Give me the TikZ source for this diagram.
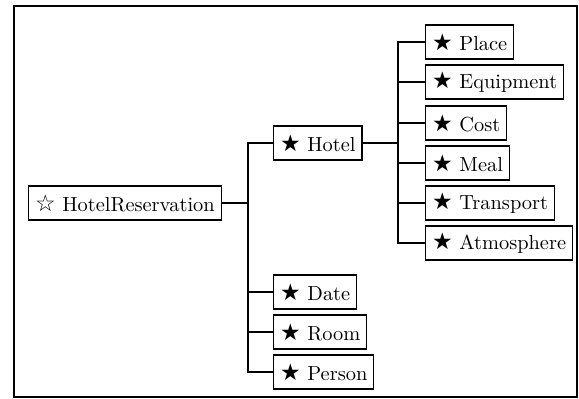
\documentclass[tikz,border=0pt]{standalone}
\usepackage{fontspec}
\usepackage{tikz}

\newfontfamily\starfont{DejaVu Sans}
\newcommand{\fullstar}{{\starfont\fontsize{11.5}{12}\selectfont ★}}
\newcommand{\openstar}{{\starfont\fontsize{11.5}{12}\selectfont ☆}}

\begin{document}
\begin{tikzpicture}[x=0.5pt, y=-0.5pt]
  % Define styles
  \tikzstyle{concept} = [rectangle, draw, line width=0.6pt, inner xsep=3.2pt, minimum height=17pt, anchor=west, font=\fontsize{10.2}{12}\selectfont]
  \tikzstyle{link} = [line width=0.6pt]

  \useasboundingbox (0,0) rectangle (579,399);
  \draw[line width=0.8pt] (14,6) rectangle (577,397);

  % Root
  \node[concept] (root) at (28,203) {\openstar\ HotelReservation};

  % Root children
  \node[concept] (hotel) at (273,143) {\fullstar\ Hotel};
  \node[concept] (date) at (273,292) {\fullstar\ Date};
  \node[concept] (room) at (273,332) {\fullstar\ Room};
  \node[concept] (person) at (273,372) {\fullstar\ Person};

  % Hotel children
  \node[concept] (place) at (425,42) {\fullstar\ Place};
  \node[concept] (equip) at (425,82) {\fullstar\ Equipment};
  \node[concept] (cost) at (425,123) {\fullstar\ Cost};
  \node[concept] (meal) at (425,163) {\fullstar\ Meal};
  \node[concept] (transport) at (425,203) {\fullstar\ Transport};
  \node[concept] (atmo) at (425,243) {\fullstar\ Atmosphere};

  % Bus lines
  \coordinate (rbus) at (248,203);
  \coordinate (hbus) at (398,143);

  % Connections - root
  \draw[link] (root.east) -- (rbus);
  \draw[link] (hotel.west) -- (hotel.west -| rbus) -- (person.west -| rbus) -- (person.west);
  \draw[link] (date.west) -- (date.west -| rbus);
  \draw[link] (room.west) -- (room.west -| rbus);

  % Connections - hotel
  \draw[link] (hotel.east) -- (hbus);
  \draw[link] (place.west) -- (place.west -| hbus) -- (atmo.west -| hbus) -- (atmo.west);
  \draw[link] (equip.west) -- (equip.west -| hbus);
  \draw[link] (cost.west) -- (cost.west -| hbus);
  \draw[link] (meal.west) -- (meal.west -| hbus);
  \draw[link] (transport.west) -- (transport.west -| hbus);

\end{tikzpicture}
\end{document}
